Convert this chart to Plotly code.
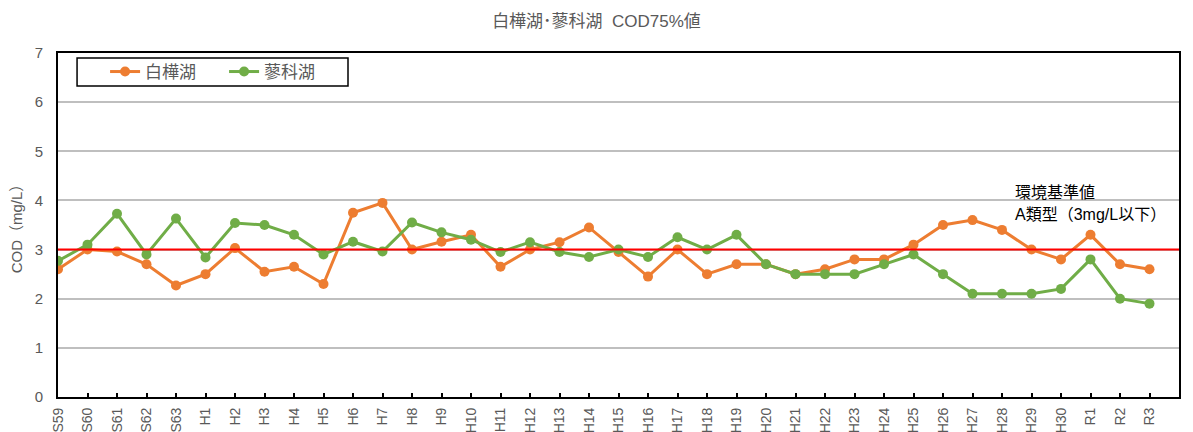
import plotly.graph_objects as go

# Fiscal years (Showa 59 .. Reiwa 3)
years = ["S59", "S60", "S61", "S62", "S63",
         "H1", "H2", "H3", "H4", "H5", "H6", "H7", "H8", "H9", "H10",
         "H11", "H12", "H13", "H14", "H15", "H16", "H17", "H18", "H19", "H20",
         "H21", "H22", "H23", "H24", "H25", "H26", "H27", "H28", "H29", "H30",
         "R1", "R2", "R3"]

# COD 75% values (mg/L)
shirakaba = [2.6, 3.0, 2.96, 2.7, 2.27,
             2.5, 3.03, 2.55, 2.65, 2.3, 3.75, 3.95, 3.0, 3.16, 3.3,
             2.65, 3.0, 3.15, 3.45, 2.95, 2.45, 3.0, 2.5, 2.7, 2.7,
             2.5, 2.6, 2.8, 2.8, 3.1, 3.5, 3.6, 3.4, 3.0, 2.8,
             3.3, 2.7, 2.6]
tateshina = [2.77, 3.1, 3.73, 2.9, 3.63,
             2.84, 3.54, 3.5, 3.3, 2.9, 3.16, 2.96, 3.55, 3.35, 3.2,
             2.95, 3.15, 2.95, 2.85, 3.0, 2.85, 3.25, 3.0, 3.3, 2.7,
             2.5, 2.5, 2.5, 2.7, 2.9, 2.5, 2.1, 2.1, 2.1, 2.2,
             2.8, 2.0, 1.9]

standard_value = 3.0
y_ticks = [0, 1, 2, 3, 4, 5, 6, 7]

FONT = "Liberation Sans, Noto Sans CJK JP, sans-serif"
GRAY = "#595959"

xs = list(range(len(years)))

fig = go.Figure()
fig.add_trace(go.Scatter(
    x=xs, y=shirakaba, name="白樺湖", mode="lines+markers",
    line=dict(color="#ED7D31", width=3), marker=dict(size=10, color="#ED7D31"),
))
fig.add_trace(go.Scatter(
    x=xs, y=tateshina, name="蓼科湖", mode="lines+markers",
    line=dict(color="#70AD47", width=3), marker=dict(size=10, color="#70AD47"),
))

# Environmental standard line
fig.add_shape(type="line", xref="paper", yref="y", x0=0, x1=1,
              y0=standard_value, y1=standard_value,
              line=dict(color="#FF0000", width=2), layer="above")

# Legend frame
fig.add_shape(type="rect", xref="paper", yref="paper",
              x0=0.017, x1=0.2587, y0=0.9041, y1=0.9855,
              line=dict(color="#000000", width=1.5), fillcolor="white", layer="below")

fig.add_annotation(x=0.852, xref="paper", y=4.16, yref="y", text="環境基準値",
                   showarrow=False, xanchor="left", yanchor="middle",
                   font=dict(family=FONT, size=16, color="#000000"))
fig.add_annotation(x=0.852, xref="paper", y=3.72, yref="y", text="A類型（3mg/L以下）",
                   showarrow=False, xanchor="left", yanchor="middle",
                   font=dict(family=FONT, size=16, color="#000000"))

fig.update_layout(
    width=1193, height=432,
    margin=dict(l=58, r=14, t=53, b=35),
    paper_bgcolor="white", plot_bgcolor="white",
    title=dict(text="白樺湖･蓼科湖\u00a0\u00a0COD75%値", x=0.5, xanchor="center",
               y=1 - 21 / 432, yanchor="middle",
               font=dict(family=FONT, size=17, color=GRAY)),
    legend=dict(orientation="h", x=0.042, y=0.9448, xanchor="left", yanchor="middle",
                borderwidth=0, bgcolor="rgba(0,0,0,0)",
                font=dict(family=FONT, size=17, color=GRAY),
                itemwidth=30, entrywidth=74),
    showlegend=True,
)

fig.update_xaxes(
    range=[0, len(years)], tickmode="array", tickvals=xs, ticktext=years,
    tickangle=-90, ticks="inside", ticklen=4, tickcolor="#000000", tickwidth=1.5,
    showline=True, linecolor="#000000", linewidth=2, mirror=True,
    showgrid=False, zeroline=False, automargin=False, ticklabelstandoff=3,
    tickfont=dict(family=FONT, size=14, color=GRAY),
)
fig.update_yaxes(
    range=[0, 7], tickmode="array", tickvals=y_ticks,
    showline=True, linecolor="#000000", linewidth=2, mirror=True,
    showgrid=True, gridcolor="#BFBFBF", gridwidth=1.5, zeroline=False,
    ticks="", automargin=False, ticklabelstandoff=10,
    tickfont=dict(family=FONT, size=15, color=GRAY),
    title=dict(text="COD（mg/L）", standoff=8,
               font=dict(family=FONT, size=15, color=GRAY)),
)

fig.write_html("out.html")
